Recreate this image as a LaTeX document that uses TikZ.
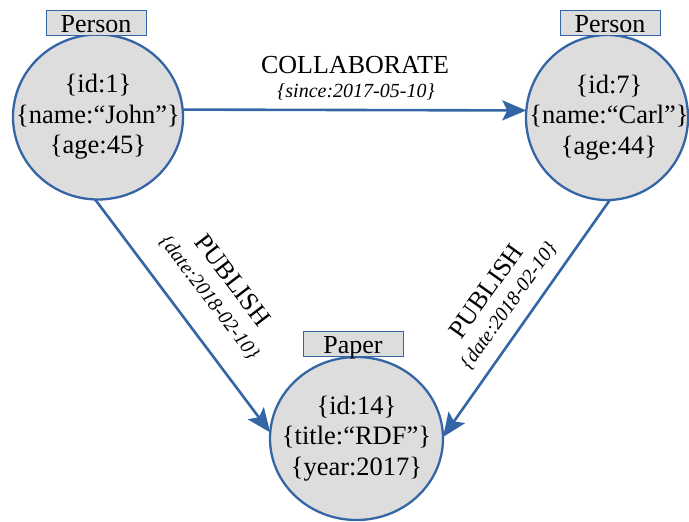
\documentclass[tikz,border=0pt]{standalone}
\usepackage{fontspec}
\setmainfont{Liberation Serif}
\usetikzlibrary{arrows.meta,shapes.geometric}
\definecolor{edgeblue}{RGB}{52,101,164}
\definecolor{nodegray}{RGB}{221,221,221}
\begin{document}
\begin{tikzpicture}[x=1pt,y=-1pt,
  entity/.style={ellipse, draw=edgeblue, line width=2.3pt, fill=nodegray,
    inner sep=0pt, outer sep=0pt},
  attrs/.style={align=center, inner sep=0pt, font=\fontsize{26.5}{30.5}\selectfont},
  tagbox/.style={draw=edgeblue, line width=0.9pt, fill=nodegray, inner sep=0pt,
    minimum width=100pt, text height=22pt, text depth=3pt, anchor=north,
    font=\fontsize{26}{30}\selectfont},
  relation/.style={draw=edgeblue, line width=2.6pt,
    -{Stealth[length=24pt,width=20pt,inset=5pt]}},
  rellabel/.style={font=\fontsize{26}{30}\selectfont, inner sep=0pt},
  relprop/.style={font=\fontsize{20}{24}\selectfont\itshape, inner sep=0pt}
]
\useasboundingbox (0,0) rectangle (689,522);

% entity outlines
\node[entity, minimum width=170pt, minimum height=165pt] (john) at (98,117) {};
\node[entity, minimum width=162pt, minimum height=165pt] (carl) at (607,117.5) {};
\node[entity, minimum width=173pt, minimum height=163pt] (paper) at (356.5,438.5) {};

% entity attributes
\node[attrs] (johnattrs) at (john.center) {\{id:1\}\\\{name:“John”\}\\\{age:45\}};
\node[attrs] (carlattrs) at ([xshift=2pt]carl.center) {\{id:7\}\\\{name:“Carl”\}\\\{age:44\}};
\node[attrs] (paperattrs) at (paper.center) {\{id:14\}\\\{title:“RDF”\}\\\{year:2017\}};

% type tags
\node[tagbox] (johntag) at (96,10) {Person};
\node[tagbox] (carltag) at (610,10) {Person};
\node[tagbox] (papertag) at (353,331) {Paper};

% relations
\draw[relation] (john.5) -- (carl.175);
\draw[relation] (john.268) -- (paper.176);
\draw[relation] (carl.272) -- (paper.1);

% relation labels
\node[rellabel, anchor=base] (collab) at (355,73) {COLLABORATE};
\node[relprop, anchor=base] (collabprop) at (356,97) {\{since:2017-05-10\}};

\node[rellabel, rotate=-52.7] (publ) at (233,280) {PUBLISH};
\node[relprop, rotate=-52.7] (publprop) at (209,298) {\{date:2018-02-10\}};

\node[rellabel, rotate=54.5] (pubr) at (486,291) {PUBLISH};
\node[relprop, rotate=54.5] (pubrprop) at (509,306) {\{date:2018-02-10\}};
\end{tikzpicture}
\end{document}
